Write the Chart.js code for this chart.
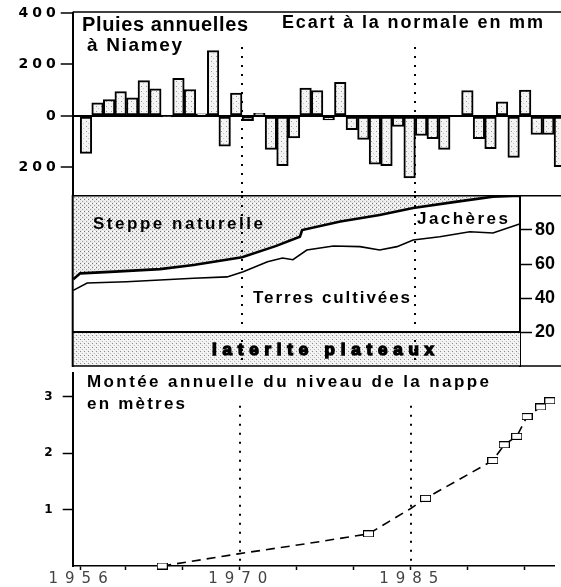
<!DOCTYPE html>
<html lang="fr">
<head>
<meta charset="utf-8">
<title>Niamey : pluies, occupation du sol, nappe</title>
<script src="https://cdn.jsdelivr.net/npm/chart.js@4.4.1/dist/chart.umd.min.js"></script>
<style>
  html, body { margin: 0; padding: 0; background: #fff; }
  #fig { position: relative; width: 561px; height: 587px; overflow: hidden; }
  .panel { position: absolute; left: 0; width: 561px; }
  #p-rain { top: 0; height: 195px; }
  #p-land { top: 195px; height: 172px; }
  #p-water { top: 366px; height: 221px; }
</style>
</head>
<body>
<div id="fig">
  <div class="panel" id="p-rain"><canvas id="rain"></canvas></div>
  <div class="panel" id="p-land"><canvas id="land"></canvas></div>
  <div class="panel" id="p-water"><canvas id="water"></canvas></div>
</div>
<script>
// --- data ---
const rainYears = [1956, 1957, 1958, 1959, 1960, 1961, 1962, 1963, 1964, 1965,
  1966, 1967, 1968, 1969, 1970, 1971, 1972, 1973, 1974, 1975,
  1976, 1977, 1978, 1979, 1980, 1981, 1982, 1983, 1984, 1985,
  1986, 1987, 1988, 1989, 1990, 1991, 1992, 1993, 1994, 1995,
  1996, 1997];
// annual rainfall departure from normal, mm
const rainAnomaly = [-145, 51, 64, 95, 70, 137, 105, -3, 146, 103,
  8, 254, -117, 89, -18, 10, -130, -193, -85, 108,
  99, -15, 131, -53, -91, -187, -193, -41, -241, -76,
  -88, -130, 0, 99, -88, -127, 55, -161, 101, -72,
  -72, -197];
const rainTicks = [400, 200, 0, -200];

// land use, % of area : top of fallow (steppe edge) and top of cultivated land
const steppeYears = [1955.4, 1956, 1959, 1962.9, 1965.8, 1970, 1972.9, 1975, 1975.2, 1978.5, 1981.9, 1984.8, 1988.6, 1991.7, 1993.4, 1994];
const steppeEdge = [51, 54.5, 55.5, 57, 59.4, 64, 70.5, 76, 80, 85, 88.8, 92.9, 96.7, 99.6, 100, 100];
const fallowYears = [1955.4, 1956.6, 1960, 1965.8, 1968.7, 1970.1, 1972.2, 1973.5, 1974.4, 1975.6, 1977.9, 1980.2, 1981.9, 1983.4, 1984.8, 1987.1, 1989.7, 1991.7, 1994];
const fallowEdge = [44.5, 48.8, 49.6, 51.6, 52.4, 55.4, 61.3, 63.5, 62.5, 68.2, 70.6, 70.2, 68.2, 70.2, 74.1, 76, 79, 78.2, 83.5];
const plateauYears = [1955.3, 1994.1];
const plateauShare = [20, 20];
const landTicks = [20, 40, 60, 80];

// annual rise of the water table, metres
const waterYears = [1963.2, 1970, 1976, 1981.3, 1985, 1986.3, 1992.2, 1993.2, 1994.3, 1995.2, 1996.4, 1997.2];
const waterLevel = [0, 0.22, 0.4, 0.57, 1.02, 1.2, 1.87, 2.15, 2.3, 2.65, 2.82, 2.93];
const waterMeasured = [1, 0, 0, 1, 0, 1, 1, 1, 1, 1, 1, 1];
const waterTicks = [1, 2, 3];

const yearTicks = [1956, 1960, 1965, 1970, 1975, 1980, 1985, 1990, 1995];
const yearLabels = [1956, 1970, 1985];
const markYears = [1970, 1985];

// --- layout ---
const X_MIN = 1955.35, X_MAX = 1997.6, X_MAX_LAND = 1994.04;
const AXIS_LEFT = 72.7;
const W = 561;

function stipple(size, bg, dots) {
  const c = document.createElement('canvas');
  c.width = c.height = size;
  const g = c.getContext('2d');
  g.fillStyle = bg;
  g.fillRect(0, 0, size, size);
  dots.forEach(([x, y, col]) => { g.fillStyle = col; g.fillRect(x, y, 1, 1); });
  return g.createPattern(c, 'repeat');
}

function boxMarker(w, h) {
  const c = document.createElement('canvas');
  c.width = w; c.height = h;
  const g = c.getContext('2d');
  g.fillStyle = '#fff';
  g.fillRect(0, 0, w, h);
  g.strokeStyle = '#000';
  g.lineWidth = 1;
  g.strokeRect(0.5, 0.5, w - 1, h - 1);
  return c;
}

// no extra room for half tick labels, the panels butt against each other
function noPad(s) {
  s.paddingTop = 0; s.paddingBottom = 0; s.paddingLeft = 0; s.paddingRight = 0;
}

const barFill = stipple(5, '#f4f4f4', [[1, 1, '#9a9a9a'], [3, 3, '#c8c8c8']]);
const steppeFill = stipple(4, '#e8e8e8', [[0, 0, '#747474'], [2, 2, '#9a9a9a'], [3, 0, '#ffffff'], [1, 2, '#ffffff'], [2, 0, '#ffffff']]);
const plateauFill = stipple(4, '#f0f0f0', [[0, 0, '#8a8a8a'], [2, 2, '#b8b8b8'], [1, 3, '#ffffff'], [3, 1, '#ffffff']]);

// spaced text drawn left-aligned so the spacing never upsets the alignment
function spacedText(ctx, text, x, y, spacing) {
  ctx.letterSpacing = '0px';
  const w = ctx.measureText(text).width + spacing * (text.length - 1);
  ctx.letterSpacing = spacing + 'px';
  ctx.textAlign = 'left';
  ctx.fillText(text, x, y);
  return w;
}

// dotted year marks, frame rules, year labels and free text
const decor = {
  id: 'decor',
  beforeDraw(chart, args, o) {
    chart.ctx.letterSpacing = (o.tickSpacing || 0) + 'px';
  },
  afterDraw(chart, args, o) {
    const ctx = chart.ctx;
    const xs = chart.scales.x, ys = chart.scales.y;
    ctx.save();
    ctx.letterSpacing = '0px';
    if (o.marks) {
      ctx.strokeStyle = '#000';
      ctx.lineWidth = 2;
      ctx.setLineDash([2, 7]);
      markYears.forEach(yr => {
        const px = Math.round(xs.getPixelForValue(yr));
        ctx.beginPath();
        ctx.moveTo(px, ys.getPixelForValue(o.marks[0]));
        ctx.lineTo(px, ys.getPixelForValue(o.marks[1]));
        ctx.stroke();
      });
      ctx.setLineDash([]);
    }
    (o.rules || []).forEach(([x1, y1, x2, y2, w]) => {
      ctx.strokeStyle = '#000';
      ctx.lineWidth = w;
      ctx.beginPath();
      ctx.moveTo(x1, y1);
      ctx.lineTo(x2, y2);
      ctx.stroke();
    });
    if (o.years) {
      const t = o.years;
      ctx.font = t.font;
      ctx.fillStyle = t.color;
      ctx.textBaseline = 'middle';
      yearLabels.forEach(yr => {
        const label = String(yr);
        ctx.letterSpacing = '0px';
        const w = ctx.measureText(label).width + t.spacing * (label.length - 1);
        spacedText(ctx, label, xs.getPixelForValue(yr) - w / 2 + t.shift, chart.chartArea.bottom + t.dy, t.spacing);
      });
    }
    (o.texts || []).forEach(t => {
      ctx.font = t.font;
      ctx.fillStyle = '#000';
      ctx.textBaseline = 'alphabetic';
      ctx.letterSpacing = '0px';
      const natural = ctx.measureText(t.text).width;
      const ls = t.width ? (t.width - natural) / (t.text.length - 1) : 0;
      spacedText(ctx, t.text, t.x, t.y, ls);
      if (t.stroke) {
        ctx.strokeStyle = '#000';
        ctx.lineWidth = t.stroke;
        ctx.strokeText(t.text, t.x, t.y);
      }
    });
    ctx.restore();
    ctx.letterSpacing = '0px';
  }
};

const common = {
  responsive: true,
  maintainAspectRatio: false,
  animation: false,
  events: [],
  devicePixelRatio: 1
};
const quiet = { legend: { display: false }, tooltip: { enabled: false } };
const TICK_FONT = { family: 'DejaVu Sans', weight: 'bold', size: 14 };

// rainfall departures
new Chart(document.getElementById('rain'), {
  type: 'bar',
  data: {
    datasets: [{
      data: rainYears.map((yr, i) => ({ x: yr + 0.5, y: rainAnomaly[i] })),
      backgroundColor: barFill,
      borderColor: '#000',
      borderWidth: 2,
      borderSkipped: false,
      barPercentage: 1,
      categoryPercentage: 1
    }]
  },
  options: {
    ...common,
    layout: { padding: { top: 13, left: 0, right: 0, bottom: 0 } },
    scales: {
      x: { type: 'linear', min: X_MIN, max: X_MAX, display: false, offset: false },
      y: {
        min: -307, max: 400,
        afterBuildTicks: s => { s.ticks = rainTicks.map(v => ({ value: v })); },
        afterFit: s => { s.width = AXIS_LEFT; noPad(s); },
        border: { color: '#000', width: 2 },
        grid: {
          color: c => (c.tick && c.tick.value === 0) ? '#000' : 'rgba(0,0,0,0)',
          lineWidth: 2, tickColor: '#000', tickWidth: 1.5, tickLength: 12
        },
        ticks: { callback: v => String(Math.abs(v)), padding: 1, color: '#000', font: TICK_FONT }
      }
    },
    plugins: {
      ...quiet,
      decor: {
        tickSpacing: 4,
        marks: [268, -307],
        rules: [[AXIS_LEFT, 12, W, 12, 1.5]],
        texts: [
          { text: 'Pluies annuelles', x: 82, y: 31, width: 166, font: 'bold 20px "Liberation Sans"' },
          { text: 'à Niamey', x: 87, y: 51, width: 95, font: 'bold 19px "Liberation Sans"' },
          { text: 'Ecart à la normale en mm', x: 282, y: 28, width: 261, font: 'bold 18px "Liberation Sans"' }
        ]
      }
    }
  },
  plugins: [decor]
});

// land use
new Chart(document.getElementById('land'), {
  type: 'line',
  data: {
    datasets: [
      {
        data: steppeYears.map((yr, i) => ({ x: yr, y: steppeEdge[i] })),
        borderColor: '#000', borderWidth: 2.6, backgroundColor: steppeFill,
        fill: 'end', pointRadius: 0, tension: 0
      },
      {
        data: fallowYears.map((yr, i) => ({ x: yr, y: fallowEdge[i] })),
        borderColor: '#000', borderWidth: 1.6, fill: false, pointRadius: 0, tension: 0
      },
      {
        data: plateauYears.map((yr, i) => ({ x: yr, y: plateauShare[i] })),
        borderColor: '#000', borderWidth: 2, backgroundColor: plateauFill,
        fill: 'origin', pointRadius: 0, tension: 0
      }
    ]
  },
  options: {
    ...common,
    layout: { padding: { top: 1, left: AXIS_LEFT, right: 0, bottom: 1 } },
    scales: {
      x: { type: 'linear', min: X_MIN, max: X_MAX_LAND, display: false },
      y: {
        position: 'right', min: 0, max: 100,
        afterBuildTicks: s => { s.ticks = landTicks.map(v => ({ value: v })); },
        afterFit: s => { s.width = W - 520; noPad(s); },
        border: { color: '#000', width: 2 },
        grid: { drawOnChartArea: false, tickColor: '#000', tickWidth: 1.5, tickLength: 12 },
        ticks: { padding: 3, color: '#000', font: { family: 'Liberation Sans', weight: 'bold', size: 18 } }
      }
    },
    plugins: {
      ...quiet,
      decor: {
        marks: [100, 0],
        rules: [[AXIS_LEFT, 0.75, W, 0.75, 1.5], [AXIS_LEFT, 171, W, 171, 1.5], [AXIS_LEFT, 0, AXIS_LEFT, 172, 2]],
        texts: [
          { text: 'Steppe naturelle', x: 93, y: 34, width: 170, font: 'bold 17px "Liberation Sans"' },
          { text: 'Jachères', x: 417, y: 29, width: 91, font: 'bold 17px "Liberation Sans"' },
          { text: 'Terres cultivées', x: 253, y: 108, width: 157, font: 'bold 17px "Liberation Sans"' },
          { text: 'laterite plateaux', x: 212, y: 160, width: 222, font: 'bold 17px "Liberation Sans"', stroke: 1.4 }
        ]
      }
    }
  },
  plugins: [decor]
});

// water table
new Chart(document.getElementById('water'), {
  type: 'line',
  data: {
    datasets: [{
      data: waterYears.map((yr, i) => ({ x: yr, y: waterLevel[i] })),
      borderColor: '#000',
      borderWidth: 1.6,
      borderDash: [9, 6],
      fill: false,
      tension: 0,
      clip: false,
      pointStyle: boxMarker(11, 7),
      pointRadius: c => waterMeasured[c.dataIndex] ? 5 : 0
    }]
  },
  options: {
    ...common,
    layout: { padding: { top: 2, left: 0, right: 0, bottom: 0 } },
    scales: {
      x: {
        type: 'linear', min: X_MIN, max: X_MAX,
        afterBuildTicks: s => { s.ticks = yearTicks.map(v => ({ value: v })); },
        afterFit: s => { s.height = 21; noPad(s); },
        border: { color: '#000', width: 1.5 },
        grid: { drawOnChartArea: false, tickColor: '#000', tickWidth: 1.5, tickLength: 4 },
        ticks: { display: false }
      },
      y: {
        min: 0, max: 3.43,
        afterBuildTicks: s => { s.ticks = waterTicks.map(v => ({ value: v })); },
        afterFit: s => { s.width = AXIS_LEFT; noPad(s); },
        border: { color: '#000', width: 2 },
        grid: { drawOnChartArea: false, tickColor: '#000', tickWidth: 1.5, tickLength: 10 },
        ticks: { padding: 10, color: '#000', font: { family: 'DejaVu Sans', weight: 'bold', size: 12 } }
      }
    },
    plugins: {
      ...quiet,
      decor: {
        marks: [2.84, 0],
        years: { font: '15px "DejaVu Sans"', color: '#444', spacing: 7, shift: -2, dy: 13 },
        texts: [
          { text: 'Montée annuelle du niveau de la nappe', x: 87, y: 21, width: 402, font: 'bold 17px "Liberation Sans"' },
          { text: 'en mètres', x: 87, y: 43, width: 98, font: 'bold 17px "Liberation Sans"' }
        ]
      }
    }
  },
  plugins: [decor]
});
</script>
</body>
</html>
